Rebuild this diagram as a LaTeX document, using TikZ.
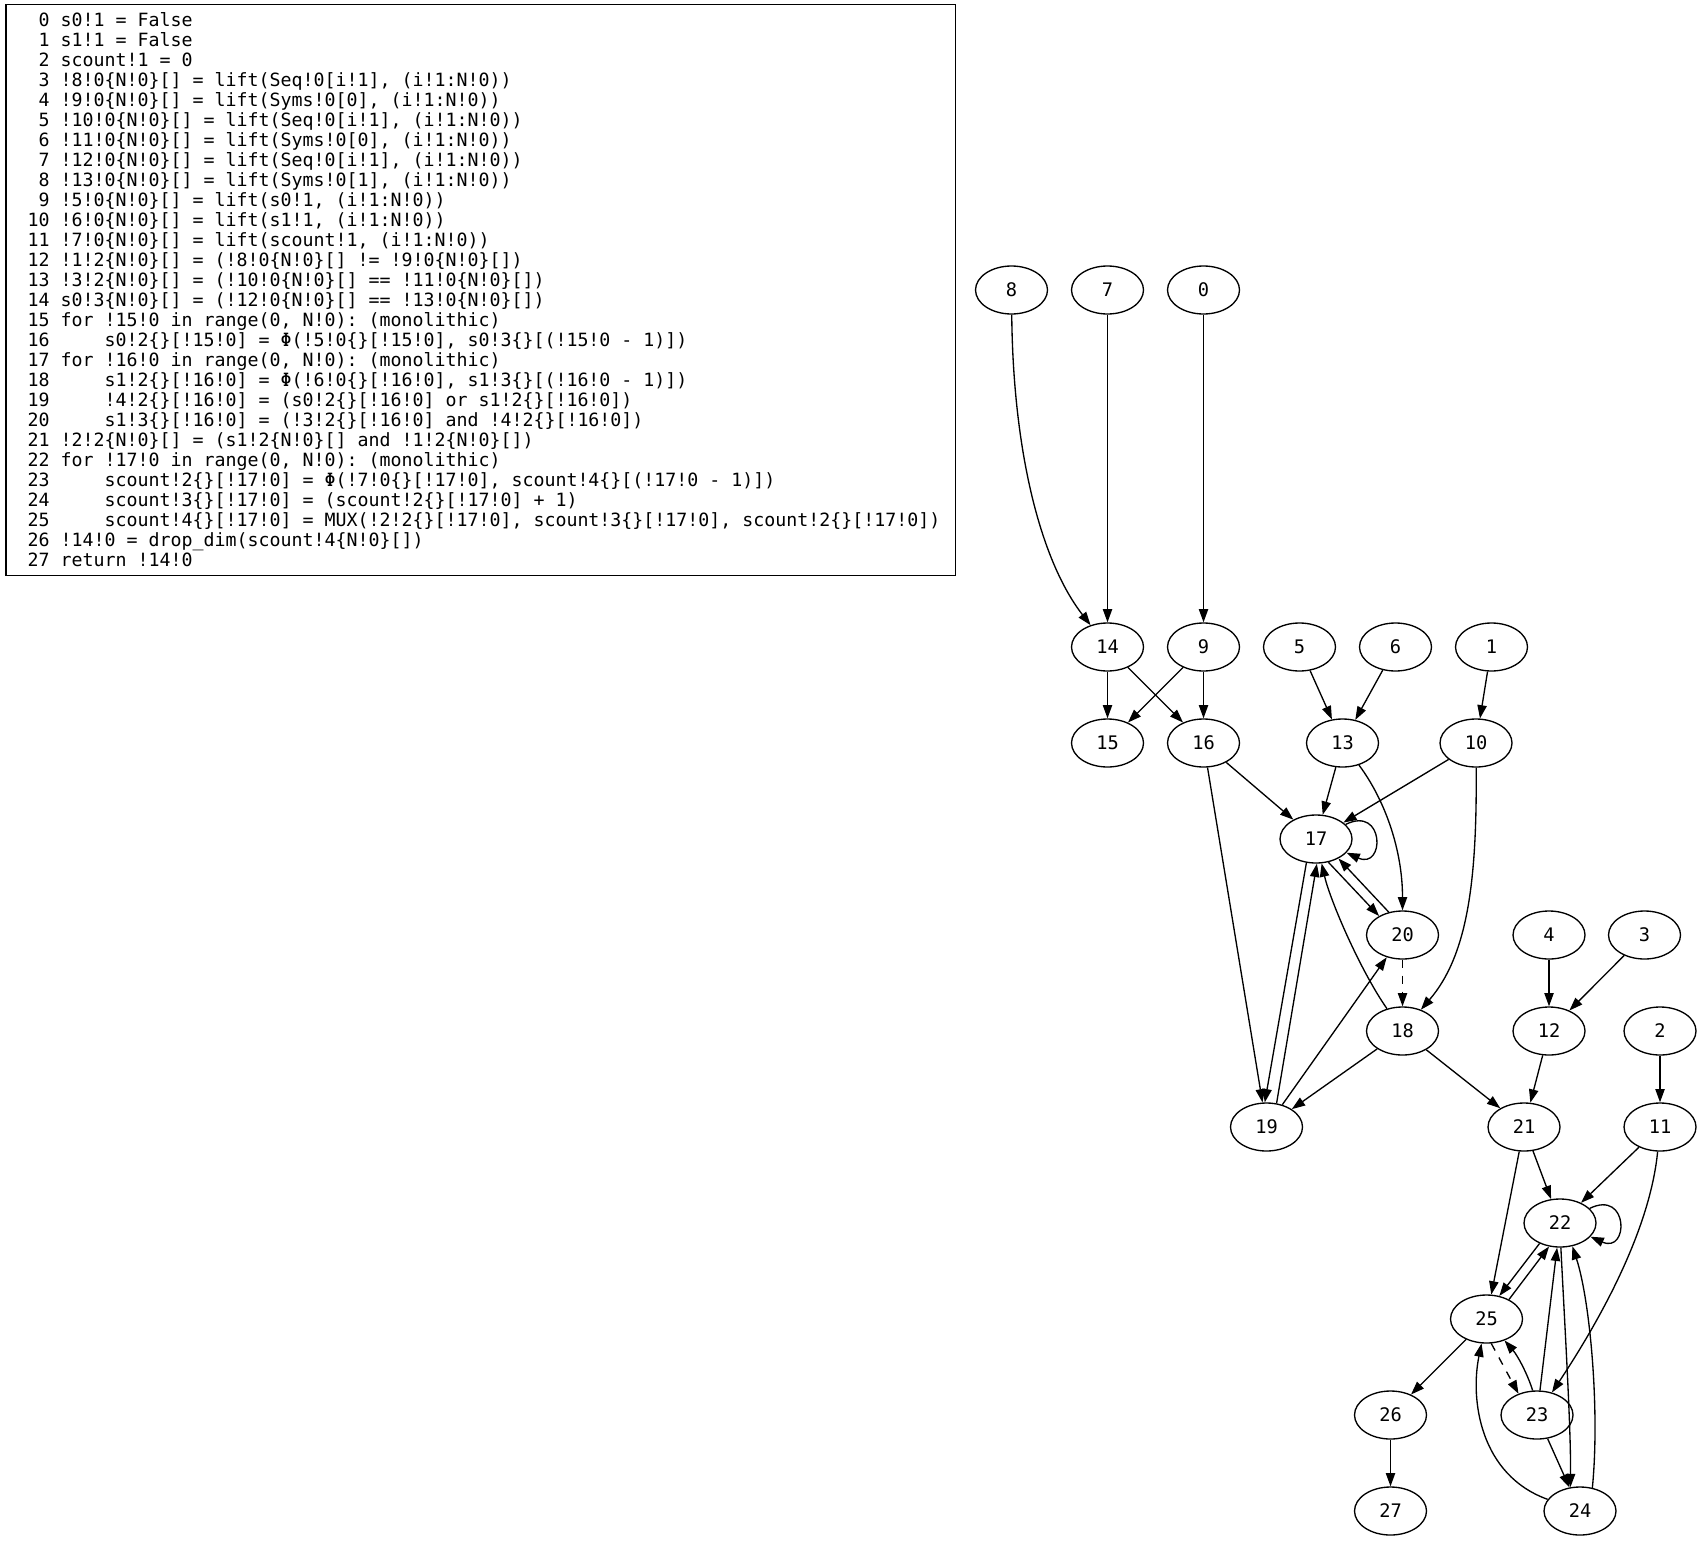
\documentclass[tikz,border=0pt]{standalone}
\usepackage{fontspec}
\setmainfont{DejaVu Sans}
\newfontfamily\codefont{DejaVu Sans Mono}
\usetikzlibrary{arrows.meta,shapes.geometric}
\newcommand{\pad}{\phantom{0}}
\newcommand{\indt}{\phantom{0000}}
\begin{document}
\begin{tikzpicture}[
  x=0.75pt, y=-0.75pt, line width=1pt,
  gnode/.style={draw, ellipse, minimum width=54pt, minimum height=36pt, inner sep=0pt,
    font=\codefont\fontsize{14pt}{16pt}\selectfont},
  codeline/.style={anchor=base west, inner sep=0pt,
    font=\codefont\fontsize{13.7pt}{15pt}\selectfont\frenchspacing},
  codebox/.style={draw, rectangle, inner sep=0pt, minimum width=712.3pt, minimum height=428.6pt},
  dep/.style={-{Triangle[length=10pt, width=7pt]}},
  depdash/.style={dep, dash pattern=on 6pt off 6pt},
]
\useasboundingbox (0,0) rectangle (1701,1541);

% program listing
\node[codebox] (listing) at (480.85,290) {};
\node[codeline] (l0)  at (27,26.5)  {\pad0 s0!1 = False};
\node[codeline] (l1)  at (27,46.5)  {\pad1 s1!1 = False};
\node[codeline] (l2)  at (27,66.5)  {\pad2 scount!1 = 0};
\node[codeline] (l3)  at (27,86.5)  {\pad3 !8!0\{N!0\}[] = lift(Seq!0[i!1], (i!1:N!0))};
\node[codeline] (l4)  at (27,106.5) {\pad4 !9!0\{N!0\}[] = lift(Syms!0[0], (i!1:N!0))};
\node[codeline] (l5)  at (27,126.5) {\pad5 !10!0\{N!0\}[] = lift(Seq!0[i!1], (i!1:N!0))};
\node[codeline] (l6)  at (27,146.5) {\pad6 !11!0\{N!0\}[] = lift(Syms!0[0], (i!1:N!0))};
\node[codeline] (l7)  at (27,166.5) {\pad7 !12!0\{N!0\}[] = lift(Seq!0[i!1], (i!1:N!0))};
\node[codeline] (l8)  at (27,186.5) {\pad8 !13!0\{N!0\}[] = lift(Syms!0[1], (i!1:N!0))};
\node[codeline] (l9)  at (27,206.5) {\pad9 !5!0\{N!0\}[] = lift(s0!1, (i!1:N!0))};
\node[codeline] (l10) at (27,226.5) {10 !6!0\{N!0\}[] = lift(s1!1, (i!1:N!0))};
\node[codeline] (l11) at (27,246.5) {11 !7!0\{N!0\}[] = lift(scount!1, (i!1:N!0))};
\node[codeline] (l12) at (27,266.5) {12 !1!2\{N!0\}[] = (!8!0\{N!0\}[] != !9!0\{N!0\}[])};
\node[codeline] (l13) at (27,286.5) {13 !3!2\{N!0\}[] = (!10!0\{N!0\}[] == !11!0\{N!0\}[])};
\node[codeline] (l14) at (27,306.5) {14 s0!3\{N!0\}[] = (!12!0\{N!0\}[] == !13!0\{N!0\}[])};
\node[codeline] (l15) at (27,326.5) {15 for !15!0 in range(0, N!0): (monolithic)};
\node[codeline] (l16) at (27,346.5) {16 \indt s0!2\{\}[!15!0] = Φ(!5!0\{\}[!15!0], s0!3\{\}[(!15!0 - 1)])};
\node[codeline] (l17) at (27,366.5) {17 for !16!0 in range(0, N!0): (monolithic)};
\node[codeline] (l18) at (27,386.5) {18 \indt s1!2\{\}[!16!0] = Φ(!6!0\{\}[!16!0], s1!3\{\}[(!16!0 - 1)])};
\node[codeline] (l19) at (27,406.5) {19 \indt !4!2\{\}[!16!0] = (s0!2\{\}[!16!0] or s1!2\{\}[!16!0])};
\node[codeline] (l20) at (27,426.5) {20 \indt s1!3\{\}[!16!0] = (!3!2\{\}[!16!0] and !4!2\{\}[!16!0])};
\node[codeline] (l21) at (27,446.5) {21 !2!2\{N!0\}[] = (s1!2\{N!0\}[] and !1!2\{N!0\}[])};
\node[codeline] (l22) at (27,466.5) {22 for !17!0 in range(0, N!0): (monolithic)};
\node[codeline] (l23) at (27,486.5) {23 \indt scount!2\{\}[!17!0] = Φ(!7!0\{\}[!17!0], scount!4\{\}[(!17!0 - 1)])};
\node[codeline] (l24) at (27,506.5) {24 \indt scount!3\{\}[!17!0] = (scount!2\{\}[!17!0] + 1)};
\node[codeline] (l25) at (27,526.5) {25 \indt scount!4\{\}[!17!0] = MUX(!2!2\{\}[!17!0], scount!3\{\}[!17!0], scount!2\{\}[!17!0])};
\node[codeline] (l26) at (27,546.5) {26 !14!0 = drop\_dim(scount!4\{N!0\}[])};
\node[codeline] (l27) at (27,566.5) {27 return !14!0};

% dependency graph nodes
\node[gnode] (n8)  at (1011.5,290) {8};
\node[gnode] (n7)  at (1107.5,290) {7};
\node[gnode] (n0)  at (1203.5,290) {0};
\node[gnode] (n14) at (1107.5,647) {14};
\node[gnode] (n9)  at (1203.5,647) {9};
\node[gnode] (n5)  at (1299.5,647) {5};
\node[gnode] (n6)  at (1395.5,647) {6};
\node[gnode] (n1)  at (1491.5,647) {1};
\node[gnode] (n15) at (1107.5,743) {15};
\node[gnode] (n16) at (1203.5,743) {16};
\node[gnode] (n13) at (1342.5,743) {13};
\node[gnode] (n10) at (1476,743) {10};
\node[gnode] (n17) at (1316,839) {17};
\node[gnode] (n20) at (1402.5,935) {20};
\node[gnode] (n4)  at (1549,935) {4};
\node[gnode] (n3)  at (1644.5,935) {3};
\node[gnode] (n18) at (1402.5,1031) {18};
\node[gnode] (n12) at (1549,1031) {12};
\node[gnode] (n2)  at (1660,1031) {2};
\node[gnode] (n19) at (1266.5,1127) {19};
\node[gnode] (n21) at (1524,1127) {21};
\node[gnode] (n11) at (1660,1127) {11};
\node[gnode] (n22) at (1560,1223) {22};
\node[gnode] (n25) at (1486.5,1319) {25};
\node[gnode] (n26) at (1390.5,1415) {26};
\node[gnode] (n23) at (1537,1415) {23};
\node[gnode] (n27) at (1390.5,1511) {27};
\node[gnode] (n24) at (1580,1511) {24};

% edges
\draw[dep] (n8) .. controls (1013,450) and (1040,560) .. (n14);
\draw[dep] (n7) -- (n14);
\draw[dep] (n0) -- (n9);
\draw[dep] (n14) -- (n15);
\draw[dep] (n14) -- (n16);
\draw[dep] (n9) -- (n15);
\draw[dep] (n9) -- (n16);
\draw[dep] (n5) -- (n13);
\draw[dep] (n6) -- (n13);
\draw[dep] (n1) -- (n10);
\draw[dep] (n16) -- (n17);
\draw[dep] (n16) -- (n19);
\draw[dep] (n13) -- (n17);
\draw[dep] (n13) .. controls (1385,800) and (1402.5,850) .. (n20);
\draw[dep] (n10) -- (n17);
\draw[dep] (n10) .. controls (1477,880) and (1468,955) .. (n18);
\draw[dep] (n17) .. controls (1385,805) and (1385,870) .. (n17);
\draw[dep] (n17.-62) -- (n20.141);
\draw[dep] (n20.121) -- (n17.-41);
\draw[dep] (n17.-112) -- (n19.94);
\draw[dep] (n19.67) -- (n17.-88);
\draw[dep] (n18) .. controls (1360,970) and (1330,900) .. (n17);
\draw[depdash] (n20) -- (n18);
\draw[dep] (n19) -- (n20);
\draw[dep] (n18) -- (n19);
\draw[dep] (n18) -- (n21);
\draw[dep] (n4) -- (n12);
\draw[dep] (n3) -- (n12);
\draw[dep] (n12) -- (n21);
\draw[dep] (n2) -- (n11);
\draw[dep] (n21) -- (n22);
\draw[dep] (n21) -- (n25);
\draw[dep] (n11) -- (n22);
\draw[dep] (n11) .. controls (1650,1230) and (1600,1320) .. (n23);
\draw[dep] (n22) .. controls (1629,1189) and (1629,1254) .. (n22);
\draw[dep] (n22.-135) -- (n25.61);
\draw[dep] (n25.41) -- (n22.-115);
\draw[dep] (n22.-88) .. controls (1565,1330) and (1571,1430) .. (n24.112);
\draw[dep] (n24.62) .. controls (1600,1410) and (1590,1300) .. (n22.-62);
\draw[dep] (n23) -- (n22);
\draw[depdash] (n25.-79) -- (n23.131);
\draw[dep] (n23.100) .. controls (1526.7,1372) and (1517.1,1355) .. (n25.-50);
\draw[dep] (n23) -- (n24);
\draw[dep] (n24) .. controls (1480,1475) and (1470,1400) .. (n25);
\draw[dep] (n25) -- (n26);
\draw[dep] (n26) -- (n27);
\end{tikzpicture}
\end{document}
